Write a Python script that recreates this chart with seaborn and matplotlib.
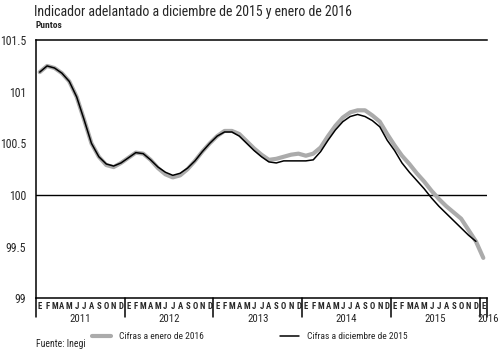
import numpy as np
import pandas as pd
import seaborn as sns
import matplotlib
matplotlib.use("Agg")
import matplotlib.pyplot as plt
from matplotlib import font_manager
from matplotlib.transforms import blended_transform_factory

# monthly values, Jan 2011 onwards
cifras_dic_2015 = [
    101.19, 101.25, 101.23, 101.18, 101.10, 100.95, 100.73, 100.50, 100.37, 100.30, 100.28, 100.31,
    100.36, 100.41, 100.40, 100.34, 100.27, 100.22, 100.19, 100.21, 100.26, 100.33, 100.42, 100.50,
    100.57, 100.61, 100.61, 100.57, 100.50, 100.43, 100.37, 100.32, 100.31, 100.33, 100.33, 100.33,
    100.33, 100.34, 100.42, 100.53, 100.63, 100.71, 100.76, 100.78, 100.76, 100.72, 100.66, 100.53,
    100.43, 100.31, 100.22, 100.14, 100.06, 99.97, 99.89, 99.82, 99.75, 99.68, 99.61, 99.55,
]
cifras_ene_2016 = [
    101.19, 101.25, 101.23, 101.18, 101.10, 100.95, 100.73, 100.50, 100.37, 100.29, 100.27, 100.31,
    100.36, 100.41, 100.40, 100.34, 100.26, 100.20, 100.17, 100.19, 100.25, 100.33, 100.42, 100.50,
    100.57, 100.62, 100.62, 100.59, 100.52, 100.45, 100.39, 100.34, 100.35, 100.37, 100.39, 100.40,
    100.38, 100.40, 100.46, 100.57, 100.67, 100.75, 100.80, 100.82, 100.82, 100.77, 100.71, 100.59,
    100.48, 100.38, 100.30, 100.21, 100.13, 100.04, 99.96, 99.89, 99.83, 99.77, 99.66, 99.55,
    99.39,
]
month_letters = ["E", "F", "M", "A", "M", "J", "J", "A", "S", "O", "N", "D"]
years = ["2011", "2012", "2013", "2014", "2015", "2016"]
yticks = [99, 99.5, 100, 100.5, 101, 101.5]
ytick_labels = ["99", "99.5", "100", "100.5", "101", "101.5"]

sns.set_style("white")

# look for a narrow face, the original uses a condensed grotesque
names = {f.name for f in font_manager.fontManager.ttflist}
narrow = None
for cand in ["Liberation Sans Narrow", "DejaVu Sans Condensed", "Roboto Condensed",
             "Open Sans Condensed"]:
    if cand in names:
        narrow = cand
        break
if narrow is None:
    narrow = "Liberation Sans"
    scale = 0.88
else:
    scale = 1.0
plt.rcParams["font.family"] = [narrow, "DejaVu Sans"]

fig = plt.figure(figsize=(5, 3.52), dpi=100)
ax = fig.add_axes([0.072, 0.153, 0.902, 0.733])

idx_new = np.arange(len(cifras_ene_2016))
idx_old = np.arange(len(cifras_dic_2015))
sns.lineplot(x=idx_new, y=cifras_ene_2016, ax=ax, color="#ababab", linewidth=3.0,
             label="Cifras a enero de 2016")
sns.lineplot(x=idx_old, y=cifras_dic_2015, ax=ax, color="black", linewidth=1.1,
             label="Cifras a diciembre de 2015")

ax.set_xlim(-0.5, 60.5)
ax.set_ylim(99, 101.5)
ax.axhline(100, color="black", linewidth=1.0, zorder=1)

ax.spines["right"].set_visible(False)
for s in ["left", "top", "bottom"]:
    ax.spines[s].set_color("black")
    ax.spines[s].set_linewidth(1.1)

ax.set_yticks(yticks)
ax.set_yticklabels(ytick_labels, fontsize=8.5 * scale)
ax.tick_params(axis="y", direction="out", length=4, width=1, color="black", pad=3)

# month letters under each month
xt = list(range(61))
xl = [month_letters[i % 12] for i in xt]
ax.set_xticks(xt)
ax.set_xticklabels(xl, fontsize=6.3 * scale, fontweight="bold")
ax.tick_params(axis="x", length=0, pad=2.5)

trans = blended_transform_factory(ax.transData, ax.transAxes)
for b in [-0.5, 11.5, 23.5, 35.5, 47.5, 59.5, 60.5]:
    ax.plot([b, b], [0, -0.072], transform=trans, color="black", linewidth=1.1, clip_on=False)
for k, yr in enumerate(years):
    xc = 5.5 + 12 * k if k < 5 else 60.6
    ax.text(xc, -0.06, yr, transform=trans, ha="center", va="top", fontsize=7.8 * scale)

ax.set_xlabel("")
ax.set_ylabel("")

fig.text(0.068, 0.985, "Indicador adelantado a diciembre de 2015 y enero de 2016",
         ha="left", va="top", fontsize=10 * scale)
fig.text(0.072, 0.915, "Puntos", ha="left", va="bottom", fontsize=6.8 * scale, fontweight="bold")
fig.text(0.072, 0.008, "Fuente: Inegi", ha="left", va="bottom", fontsize=7 * scale)

ax.get_legend().remove()
handles, labels = ax.get_legend_handles_labels()
fig.legend(handles, labels, loc="center", bbox_to_anchor=(0.5, 0.043), ncol=2,
           frameon=False, fontsize=6.8 * scale, handlelength=2.0, columnspacing=8,
           handletextpad=0.9)

fig.savefig("out.png", dpi=100)
